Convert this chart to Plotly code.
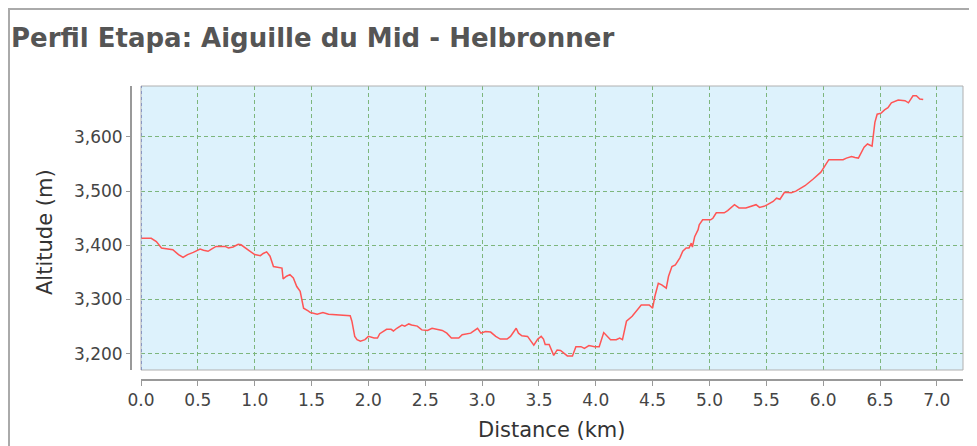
import plotly.graph_objects as go

distance_km = [0.00, 0.09, 0.135, 0.18, 0.28, 0.33, 0.37, 0.41, 0.46, 0.52, 0.55, 0.59, 0.62, 0.66,
               0.74, 0.77, 0.81, 0.855, 0.88, 0.915, 0.96, 1.00, 1.05, 1.075, 1.105, 1.135, 1.165,
               1.24, 1.25, 1.28, 1.31, 1.34, 1.37, 1.40, 1.415, 1.43, 1.47, 1.49, 1.55, 1.60, 1.65,
               1.84, 1.855, 1.88, 1.90, 1.93, 1.97, 2.00, 2.05, 2.08, 2.10, 2.13, 2.16, 2.20, 2.22,
               2.25, 2.295, 2.32, 2.355, 2.38, 2.43, 2.47, 2.52, 2.56, 2.60, 2.65, 2.69, 2.73, 2.795,
               2.825, 2.90, 2.96, 2.99, 3.03, 3.075, 3.12, 3.16, 3.22, 3.25, 3.28, 3.30, 3.32, 3.35,
               3.40, 3.43, 3.455, 3.49, 3.52, 3.54, 3.555, 3.59, 3.63, 3.66, 3.69, 3.75, 3.795, 3.825,
               3.87, 3.90, 3.94, 3.99, 4.03, 4.07, 4.10, 4.13, 4.18, 4.21, 4.235, 4.27, 4.32, 4.37,
               4.40, 4.47, 4.50, 4.52, 4.55, 4.58, 4.62, 4.64, 4.67, 4.70, 4.74, 4.765, 4.795, 4.82,
               4.84, 4.85, 4.87, 4.90, 4.91, 4.94, 5.01, 5.03, 5.06, 5.13, 5.16, 5.22, 5.26, 5.32,
               5.37, 5.41, 5.44, 5.48, 5.51, 5.56, 5.59, 5.62, 5.66, 5.72, 5.76, 5.79, 5.84, 5.91,
               5.98, 6.05, 6.175, 6.205, 6.25, 6.28, 6.31, 6.36, 6.39, 6.43, 6.455, 6.475, 6.51, 6.54,
               6.57, 6.60, 6.66, 6.72, 6.75, 6.79, 6.82, 6.85, 6.88]
altitude_m = [3413, 3413, 3407, 3395, 3392, 3383, 3378, 3383, 3387, 3393, 3391, 3389, 3393, 3398,
              3398, 3395, 3397, 3402, 3401, 3395, 3389, 3383, 3381, 3385, 3388, 3380, 3361,
              3358, 3338, 3343, 3346, 3340, 3324, 3315, 3300, 3284, 3279, 3276, 3273, 3276, 3273,
              3270, 3260, 3232, 3226, 3223, 3226, 3232, 3229, 3229, 3237, 3241, 3245, 3245, 3242,
              3247, 3253, 3251, 3255, 3253, 3251, 3244, 3243, 3247, 3245, 3243, 3238, 3229, 3229,
              3235, 3238, 3247, 3238, 3241, 3240, 3232, 3227, 3227, 3232, 3241, 3247, 3238, 3233,
              3232, 3223, 3216, 3227, 3232, 3227, 3217, 3217, 3197, 3207, 3206, 3196, 3196, 3213,
              3213, 3210, 3215, 3213, 3213, 3239, 3232, 3226, 3226, 3229, 3226, 3260, 3269, 3281,
              3290, 3290, 3284, 3306, 3330, 3327, 3321, 3343, 3361, 3364, 3377, 3389, 3395, 3395,
              3404, 3397, 3416, 3429, 3438, 3447, 3447, 3450, 3460, 3460, 3464, 3475, 3469, 3469,
              3472, 3475, 3470, 3472, 3475, 3481, 3487, 3485, 3498, 3497, 3500, 3504, 3510, 3522,
              3535, 3558, 3558, 3561, 3564, 3562, 3561, 3581, 3587, 3583, 3627, 3642, 3644, 3650,
              3654, 3663, 3668, 3667, 3663, 3676, 3676, 3670, 3669]

x_ticks = [0.0, 0.5, 1.0, 1.5, 2.0, 2.5, 3.0, 3.5, 4.0, 4.5, 5.0, 5.5, 6.0, 6.5, 7.0]
y_ticks = [3200, 3300, 3400, 3500, 3600]

title_text = "Perfil Etapa: Aiguille du Mid - Helbronner"
x_title = "Distance (km)"
y_title = "Altitude (m)"

# The page body has an 8px default margin: the figure starts at (8, 8) in the window.
OX, OY = 8, 8
WIN_W, WIN_H = 977, 446
W, H = WIN_W - OX, WIN_H - OY

# Target window-pixel positions
AX_Y_LINE_X = 131     # y-axis line
AX_X_LINE_Y = 380     # x-axis line
PLOT_RIGHT = 963
PLOT_TOP = 86

L = AX_Y_LINE_X - OX
T = PLOT_TOP - OY
R = WIN_W - PLOT_RIGHT
B = WIN_H - AX_X_LINE_Y
plot_w = W - L - R
plot_h = H - T - B
x_dom0 = 10 / plot_w
y_dom0 = 10 / plot_h


def px_x(px):
    return (px - OX - L) / plot_w


def px_y(py):
    return (H - B - (py - OY)) / plot_h


tick_font = dict(family="DejaVu Sans, Verdana, sans-serif", size=17, color="#444444")
grid_color = "#7DB67D"

fig = go.Figure()
fig.add_trace(go.Scatter(
    x=distance_km, y=altitude_m, mode="lines",
    line=dict(color="#FF5555", width=1.5), hoverinfo="x+y", showlegend=False,
))

fig.update_layout(
    width=W, height=H,
    margin=dict(l=L, r=R, t=T, b=B, autoexpand=False),
    paper_bgcolor="white",
    plot_bgcolor="#DDF2FC",
    font=dict(family="DejaVu Sans, Verdana, sans-serif", color="#333333"),
    xaxis=dict(
        domain=[x_dom0, 1], anchor="free", position=0, automargin=False,
        range=[0, 7.23], tickvals=x_ticks, tickformat=".1f",
        showgrid=True, gridcolor=grid_color, griddash="4px,3px", gridwidth=1,
        showline=True, linecolor="#999999", linewidth=2,
        ticks="outside", ticklen=5, tickcolor="#999999",
        tickfont=tick_font, zeroline=False,
    ),
    yaxis=dict(
        domain=[y_dom0, 1], anchor="free", position=0, automargin=False,
        range=[3170, 3694], tickvals=y_ticks, tickformat=",d",
        showgrid=True, gridcolor=grid_color, griddash="4px,3px", gridwidth=1,
        showline=True, linecolor="#999999", linewidth=2,
        ticks="outside", ticklen=4, tickcolor="#999999",
        tickfont=tick_font, zeroline=False,
    ),
    annotations=[
        dict(text="<b>" + title_text + "</b>", xref="paper", yref="paper",
             x=px_x(9), y=px_y(38), xanchor="left", yanchor="middle", showarrow=False,
             font=dict(size=26, color="#555555", family="DejaVu Sans, Verdana, sans-serif")),
        dict(text=x_title, xref="paper", yref="paper",
             x=px_x(552), y=px_y(430), xanchor="center", yanchor="middle", showarrow=False,
             font=dict(size=21, color="#333333")),
        dict(text=y_title, xref="paper", yref="paper", textangle=-90,
             x=px_x(45), y=px_y(232), xanchor="center", yanchor="middle", showarrow=False,
             font=dict(size=21, color="#333333")),
    ],
    shapes=[
        # plot border
        dict(type="rect", xref="paper", yref="paper", x0=x_dom0, x1=1, y0=y_dom0, y1=1,
             line=dict(color="#B0B0B0", width=1), layer="above"),
        # left domain marker
        dict(type="line", xref="x", yref="paper", x0=0, x1=0, y0=y_dom0, y1=1,
             line=dict(color="#5060B0", width=1, dash="dot"), layer="above"),
        # page frame
        dict(type="line", xref="paper", yref="paper",
             x0=px_x(8), x1=px_x(977), y0=px_y(9), y1=px_y(9),
             line=dict(color="#AAAAAA", width=2)),
        dict(type="line", xref="paper", yref="paper",
             x0=px_x(9), x1=px_x(9), y0=px_y(446), y1=px_y(9),
             line=dict(color="#AAAAAA", width=2)),
    ],
)

fig.write_html("out.html")
